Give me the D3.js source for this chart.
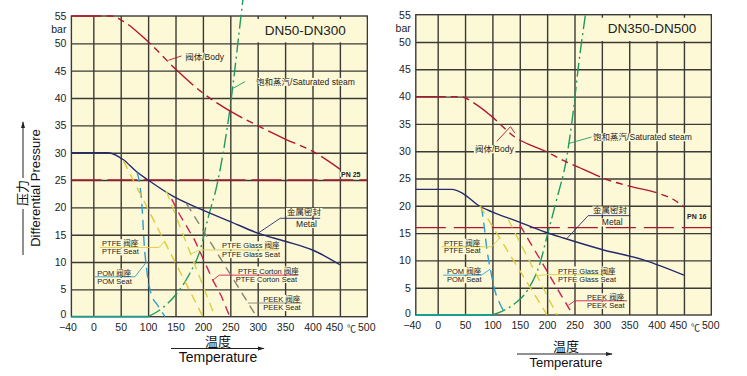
<!DOCTYPE html>
<html>
<head>
<meta charset="utf-8">
<script src="https://cdn.jsdelivr.net/npm/d3@7"></script>
<style>
  body { margin: 0; background: #fff; }
  svg { display: block; font-family: "Liberation Sans", Arial, "Noto Sans CJK SC", sans-serif; }
</style>
</head>
<body>
<svg id="chart" width="747" height="376"></svg>
<script>
// ticks
const xTicks = [-40, 0, 50, 100, 150, 200, 250, 300, 350, 400, 450, 500];
const yTicks = [0, 5, 10, 15, 20, 25, 30, 35, 40, 45, 50, 55];
const gridX = [0, 50, 100, 150, 200, 250, 300, 350, 400, 450];
const gridY = [5, 10, 15, 20, 25, 30, 35, 40, 45, 50];

// DN50-DN300 (temperature, bar)
const bodyL   = [[-40,55],[33,55],[55,54],[100,50.3],[150,45.3],[200,40.9],[250,37.6],[307,34.6],[350,32.5],[401,30.2],[450,27]];
const metalL  = [[-40,30],[27,30],[55,28.7],[79,26.5],[100,25],[146,22],[200,19.5],[250,17.4],[300,15.3],[350,13.8],[400,12.2],[450,9.5]];
const steamL  = [[-40,0],[100,0],[125,1.5],[155,4.6],[176,7.9],[195,12.2],[210,18.3],[225,23.8],[237,30],[249,37.8],[258,45],[266,52],[273,58]];
const pomL    = [[80,26.4],[89,20],[93,13],[97,9],[105,4.3],[118,2],[131,0]];
const ptfeL   = [[55,28.5],[200,0]];
const glassL  = [[133,23],[222,0]];
const cortonL = [[143,21.5],[158,18.6],[185,14],[204,9.8],[218,6.7],[234,3.7],[249,0]];
const peekL   = [[170,20.7],[298,0]];
const pnL = 25;

// DN350-DN500
const bodyR  = [[-40,40],[41,40],[68,38.7],[96,36.6],[141,32.6],[199,29.9],[236,28],[257,27.1],[312,24.7],[350,23.6],[406,22.2],[430,21.2],[450,19.8]];
const metalR = [[-40,23],[26,23],[47,22.2],[74,20.1],[99,18.9],[147,17.1],[196,15.2],[230,14.1],[300,12],[376,10.1],[450,7.3]];
const steamR = [[-40,0],[100,0],[120,0.8],[141,2.1],[166,4.8],[187,9.5],[200,14.5],[217,21],[236,29],[248,37.5],[257,45.4],[270,55]];
const pomR   = [[80,19.8],[84,17],[90,12],[97,8],[105,4.3],[114,2],[125,0]];
const ptfeR  = [[77,20],[200,0]];
const glassR = [[129,17.5],[218,0]];
const peekR  = [[150,16.5],[247,0]];
const pnR = 16;

const BG = '#fdf9d7';
const GRID = '#3b3a36';
const C = {
  body: '#b3142f', metal: '#262a6e', steam: '#1f9a5f', steam0: '#1a9f8c',
  pom: '#2b9fd4', ptfe: '#e3c935', glass: '#d2d34a', corton: '#cf1f4f', peek: '#8a8270', text: '#222'
};

const svg = d3.select('#chart');
svg.append('defs').append('marker')
  .attr('id', 'arr').attr('viewBox', '0 0 10 10').attr('refX', 9).attr('refY', 5)
  .attr('markerWidth', 7).attr('markerHeight', 7).attr('orient', 'auto')
  .append('path').attr('d', 'M0,2L10,5L0,8Z').attr('fill', '#222');

function drawPanel(p) {
  const x = d3.scaleLinear().domain([-40, 500]).range(p.xr);
  const y = d3.scaleLinear().domain([0, 55]).range(p.yr);
  const g = svg.append('g');
  const w = x(500) - x(-40), h = y(0) - y(55);

  g.append('rect').attr('x', x(-40)).attr('y', y(55)).attr('width', w).attr('height', h).attr('fill', BG);

  // grid through axes
  g.append('g').attr('transform', `translate(0,${y(0)})`)
    .call(d3.axisBottom(x).tickValues(gridX).tickSize(-h).tickFormat(''))
    .call(a => a.select('.domain').remove())
    .selectAll('line').attr('stroke', GRID).attr('stroke-width', 1.4);
  g.append('g').attr('transform', `translate(${x(-40)},0)`)
    .call(d3.axisLeft(y).tickValues(gridY).tickSize(-w).tickFormat(''))
    .call(a => a.select('.domain').remove())
    .selectAll('line').attr('stroke', GRID).attr('stroke-width', 1.4);
  g.append('rect').attr('x', x(-40)).attr('y', y(55)).attr('width', w).attr('height', h)
    .attr('fill', 'none').attr('stroke', GRID).attr('stroke-width', 1.4);

  // title box
  g.append('rect').attr('x', x(p.titleFrom)).attr('y', y(55) + 3).attr('width', x(500) - x(p.titleFrom) - 1)
    .attr('height', y(50) - y(55) - 4).attr('fill', BG);
  g.append('text').attr('x', (x(p.titleFrom) + x(500)) / 2 + 2).attr('y', y(51.6))
    .attr('text-anchor', 'middle').attr('font-size', 13.5).attr('fill', C.text).text(p.title);

  // tick labels
  const ax = g.append('g').attr('transform', `translate(0,${y(0)})`)
    .call(d3.axisBottom(x).tickValues(xTicks).tickSize(0).tickPadding(7));
  ax.select('.domain').remove();
  ax.selectAll('text').attr('font-size', 10.5).attr('font-family', null).attr('fill', C.text)
    .attr('dx', d => d === -40 ? -4 : d === 450 ? -6 : d === 500 ? -1 : 0);
  g.append('text').attr('x', x(471)).attr('y', y(0) + 15.5).attr('text-anchor', 'middle')
    .attr('font-size', 9).attr('fill', C.text).text('℃');
  const ay = g.append('g').attr('transform', `translate(${x(-40)},0)`)
    .call(d3.axisLeft(y).tickValues(yTicks).tickSize(0).tickPadding(5));
  ay.select('.domain').remove();
  ay.selectAll('text').attr('font-size', 10.5).attr('font-family', null).attr('fill', C.text)
    .attr('dy', d => d === 0 ? '0.1em' : '0.32em');
  g.append('text').attr('x', x(-40) - 5).attr('y', y(55) + 17).attr('text-anchor', 'end')
    .attr('font-size', 10.5).attr('fill', C.text).text('bar');

  // label backgrounds then lines then labels
  const labelLayer = g.append('g');
  const bgLayer = g.insert('g', () => labelLayer.node());
  const lineLayer = g.insert('g', () => labelLayer.node());

  const line = d3.line().x(d => x(d[0])).y(d => y(d[1]));
  const smooth = d3.line().x(d => x(d[0])).y(d => y(d[1])).curve(d3.curveMonotoneX);

  p.series.forEach(s => {
    lineLayer.append('path').datum(s.data)
      .attr('d', s.smooth ? smooth : line)
      .attr('fill', 'none').attr('stroke', s.color).attr('stroke-width', s.width || 1.4)
      .attr('stroke-dasharray', s.dash || null);
  });

  p.leaders.forEach(l => {
    lineLayer.append('path').datum(l.data).attr('d', line)
      .attr('fill', 'none').attr('stroke', l.color).attr('stroke-width', 0.9);
  });

  p.labels.forEach(l => {
    const t = labelLayer.append('text').attr('x', x(l.t)).attr('y', y(l.p))
      .attr('font-size', l.size || 7.5).attr('fill', C.text)
      .attr('font-weight', l.bold ? 'bold' : null).text(l.text);
    const b = t.node().getBBox();
    bgLayer.append('rect').attr('x', b.x - 1).attr('y', b.y + 1).attr('width', b.width + 2).attr('height', b.height - 2)
      .attr('fill', BG);
  });
}

const pnLine = v => [[-40, v], [500, v]];

drawPanel({
  xr: [71.4, 367.3], yr: [316.7, 16], title: 'DN50-DN300', titleFrom: 266,
  series: [
    { data: pnLine(pnL), color: C.body, dash: '30,6' },
    { data: steamL.slice(0, 2), color: C.steam0, width: 1.8 },
    { data: steamL.slice(1), color: C.steam, smooth: true, dash: '14,4,2,4' },
    { data: bodyL, color: C.body, smooth: true, dash: '30,5,7,5,7,5' },
    { data: metalL, color: C.metal, smooth: true },
    { data: pomL, color: C.pom, smooth: true, dash: '10,6' },
    { data: ptfeL, color: C.ptfe, dash: '9,6' },
    { data: glassL, color: C.glass, dash: '9,6' },
    { data: cortonL, color: C.corton, dash: '9,6' },
    { data: peekL, color: C.peek, dash: '9,6' }
  ],
  leaders: [
    { data: [[137,46.9],[161,47.7]], color: C.body },
    { data: [[255.5,41.8],[277,43]], color: C.steam },
    { data: [[301,15.3],[341,18],[414,18]], color: C.metal },
    { data: [[12,12.66],[120,12.66],[130,13.8]], color: C.ptfe },
    { data: [[3,7.3],[76,7.3],[97,10]], color: C.pom },
    { data: [[178,11.5],[195,12.2],[338,12.2]], color: C.glass },
    { data: [[218,6.7],[230,7.6],[374,7.6]], color: C.corton },
    { data: [[282,2.5],[381,2.5]], color: C.peek }
  ],
  labels: [
    { t: 167.7, p: 47.0, text: '阀体/Body', size: 8.5 },
    { t: 297, p: 42.4, text: '饱和蒸汽/Saturated steam', size: 8.5 },
    { t: 452, p: 25.6, text: 'PN 25', size: 7, bold: true },
    { t: 353.5, p: 18.6, text: '金属密封', size: 8.5 },
    { t: 370, p: 16.4, text: 'Metal', size: 8.5 },
    { t: 16, p: 12.9, text: 'PTFE 阀座' },
    { t: 16, p: 11.4, text: 'PTFE Seat' },
    { t: 7, p: 7.5, text: 'POM 阀座' },
    { t: 7, p: 6.0, text: 'POM Seat' },
    { t: 235, p: 12.5, text: 'PTFE Glass 阀座' },
    { t: 235, p: 10.9, text: 'PTFE Glass Seat' },
    { t: 264, p: 7.9, text: 'PTFE Corton 阀座' },
    { t: 260, p: 6.35, text: 'PTFE Corton Seat' },
    { t: 310, p: 2.7, text: 'PEEK 阀座' },
    { t: 310, p: 1.2, text: 'PEEK Seat' }
  ]
});

drawPanel({
  xr: [415.8, 711.3], yr: [315, 14.7], title: 'DN350-DN500', titleFrom: 276,
  series: [
    { data: pnLine(pnR), color: C.body, dash: '30,8' },
    { data: steamR.slice(0, 2), color: C.steam0, width: 1.8 },
    { data: steamR.slice(1), color: C.steam, smooth: true, dash: '14,4,2,4' },
    { data: bodyR, color: C.body, smooth: true, dash: '30,5,7,5,7,5' },
    { data: metalR, color: C.metal, smooth: true },
    { data: pomR, color: C.pom, smooth: true, dash: '10,6' },
    { data: ptfeR, color: C.ptfe, dash: '9,6' },
    { data: glassR, color: C.glass, dash: '9,6' },
    { data: peekR, color: C.corton, dash: '9,6' }
  ],
  leaders: [
    { data: [[108,31.8],[133,34.5],[141,33.3]], color: C.body },
    { data: [[239,31.4],[281,32.6]], color: C.steam },
    { data: [[236,14],[275,18.2],[352,18.2]], color: C.metal },
    { data: [[7,12.5],[99,12.5],[114,14.2]], color: C.ptfe },
    { data: [[10,7.3],[80,7.3],[96,8.4]], color: C.pom },
    { data: [[181,7.2],[199,7.4],[320,7.4]], color: C.glass },
    { data: [[239,1.8],[251,2.6],[346,2.6]], color: C.corton }
  ],
  labels: [
    { t: 68, p: 29.8, text: '阀体/Body', size: 8.5 },
    { t: 284, p: 32, text: '饱和蒸汽/Saturated steam', size: 8.5 },
    { t: 455.6, p: 17.5, text: 'PN 16', size: 7, bold: true },
    { t: 284, p: 18.6, text: '金属密封', size: 8.5 },
    { t: 300, p: 16.4, text: 'Metal', size: 8.5 },
    { t: 11.5, p: 12.7, text: 'PTFE 阀座' },
    { t: 11.5, p: 11.3, text: 'PTFE Seat' },
    { t: 17, p: 7.5, text: 'POM 阀座' },
    { t: 17, p: 6.0, text: 'POM Seat' },
    { t: 220, p: 7.6, text: 'PTFE Glass 阀座' },
    { t: 220, p: 6.1, text: 'PTFE Glass Seat' },
    { t: 273, p: 2.7, text: 'PEEK 阀座' },
    { t: 273, p: 1.3, text: 'PEEK Seat' }
  ]
});

// axis titles
const titles = svg.append('g').attr('fill', '#111');
titles.append('text').attr('transform', 'translate(27,193) rotate(-90)').attr('text-anchor', 'middle')
  .attr('font-size', 13).text('压力');
titles.append('text').attr('transform', 'translate(40,188) rotate(-90)').attr('text-anchor', 'middle')
  .attr('font-size', 13).text('Differential Pressure');
titles.append('line').attr('x1', 23).attr('y1', 255).attr('x2', 23).attr('y2', 209).attr('stroke', '#222');
titles.append('line').attr('x1', 23).attr('y1', 178).attr('x2', 23).attr('y2', 122).attr('stroke', '#222')
  .attr('marker-end', 'url(#arr)');

[{ cx: 218, y0: 346, lx: [171, 264], ly: 348.5, ty: 362, fs: 14 },
 { cx: 566, y0: 351, lx: [517, 612], ly: 354, ty: 367, fs: 13 }].forEach(a => {
  titles.append('text').attr('x', a.cx).attr('y', a.y0).attr('text-anchor', 'middle').attr('font-size', 13).text('温度');
  titles.append('line').attr('x1', a.lx[0]).attr('x2', a.lx[1]).attr('y1', a.ly).attr('y2', a.ly)
    .attr('stroke', '#222').attr('marker-end', 'url(#arr)');
  titles.append('text').attr('x', a.cx).attr('y', a.ty).attr('text-anchor', 'middle').attr('font-size', a.fs).text('Temperature');
});
</script>
</body>
</html>
